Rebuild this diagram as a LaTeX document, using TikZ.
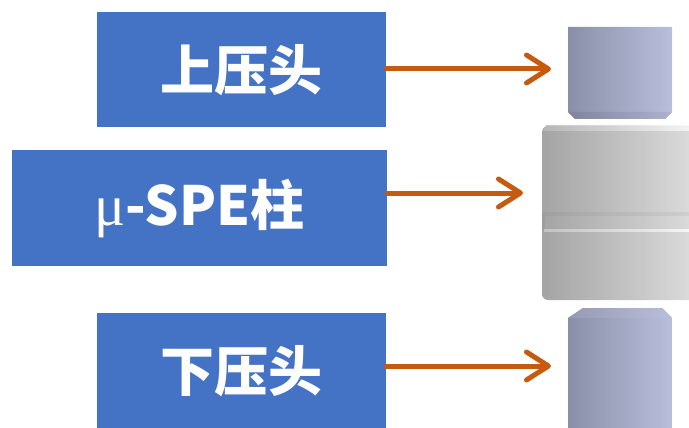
\documentclass[tikz,border=0pt]{standalone}
\usepackage{fontspec}
\newfontfamily\cjk{Noto Sans CJK SC}
\newfontfamily\greekfont{Liberation Serif}
\usetikzlibrary{arrows.meta}
\definecolor{boxblue}{HTML}{4472C4}
\definecolor{arrowc}{HTML}{C55A11}
\definecolor{headL}{HTML}{8A8FA9}
\definecolor{headR}{HTML}{B9BEDB}
\definecolor{headHi}{HTML}{D2D6EE}
\definecolor{colL}{HTML}{A4A4A4}
\definecolor{colM}{HTML}{C4C4C4}
\definecolor{colR}{HTML}{DEDEDE}
\begin{document}
\begin{tikzpicture}[x=1pt,y=-1pt,
  labelbox/.style={fill=boxblue, draw=none, text=white, inner sep=0pt,
    anchor=north west, font=\cjk\bfseries\fontsize{54}{60}\selectfont},
  pointer/.style={draw=arrowc, line width=5pt, line cap=round, line join=round,
    -{Straight Barb[length=22pt, width=28pt, line cap=round, line join=round]}},
  headshade/.style={left color=headL, right color=headR},
  colshade/.style={left color=colL, middle color=colM, right color=colR}]
\useasboundingbox (0,0) rectangle (689,428);

% label boxes
\node[labelbox, minimum width=289pt, minimum height=115pt] (upper) at (97,12) {上压头};
\node[labelbox, minimum width=375pt, minimum height=116pt] (column) at (12,150)
  {{\greekfont\mdseries\fontsize{58}{60}\selectfont μ}-SPE柱};
\node[labelbox, minimum width=289pt, minimum height=115pt] (lower) at (97,313) {下压头};

% upper press head with chamfered lower edge
\shade[headshade] (568,27) -- (672,27) -- (672,112) -- (665,119) -- (575,119) -- (568,112) -- cycle;
\shade[left color=headL!92!black, right color=headR!94!black] (568,112) -- (672,112) -- (665,119) -- (575,119) -- cycle;

% SPE column body
\shade[colshade, rounded corners=6pt] (542,126) rectangle (700,300);
\shade[left color=colL!75!white, right color=white, opacity=0.8] (546,125) -- (700,125) -- (700,131) -- (543,131) -- cycle;
% groove around the middle
\shade[left color=colL!95!black, right color=colR!92!black, opacity=0.6] (545,212) rectangle (700,215);
\fill[colL!70!black, opacity=0.15] (542,213) rectangle (545,229);
\shade[left color=colL!60!white, right color=white, opacity=0.85] (544,229) rectangle (700,231.5);

% lower press head with chamfered upper edge
\shade[headshade] (583,308) -- (662,308) -- (672,318) -- (672,440) -- (568,440) -- (568,318) -- cycle;
\shade[left color=headL!90!white, middle color=headHi, right color=headR] (583,308) -- (662,308) -- (672,318) -- (568,318) -- cycle;

% pointer tips
\coordinate (uppertip) at (551,69);
\coordinate (columntip) at (523,193);
\coordinate (lowertip) at (551,366);

\draw[pointer] (upper.east |- uppertip) -- (uppertip);
\draw[pointer] (column.east |- columntip) -- (columntip);
\draw[pointer] (lower.east |- lowertip) -- (lowertip);
\end{tikzpicture}
\end{document}
